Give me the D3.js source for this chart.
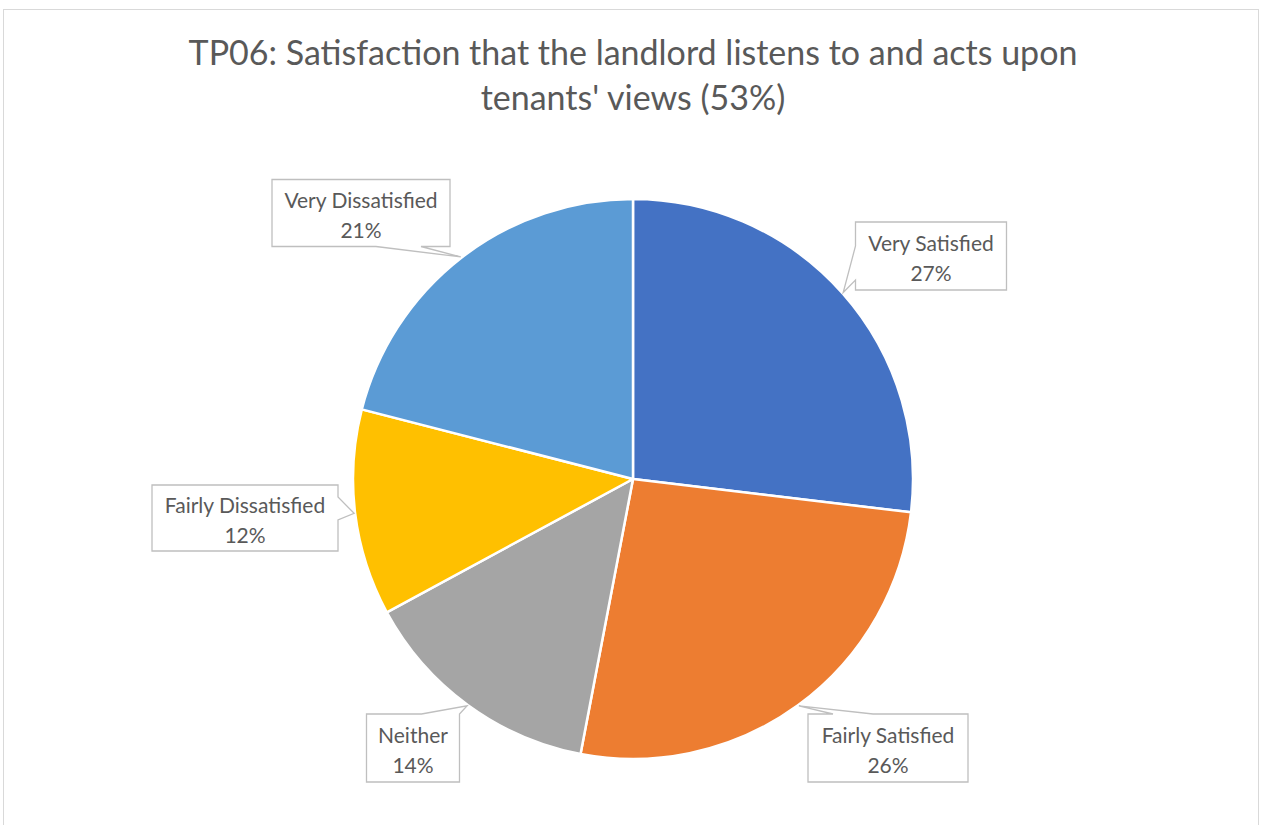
<!DOCTYPE html>
<html>
<head>
<meta charset="utf-8">
<script src="https://cdn.jsdelivr.net/npm/d3@7"></script>
<style>
  body { margin: 0; background: #fff; }
  text { font-family: Lato, "Open Sans", sans-serif; }
</style>
</head>
<body>
<div id="chart-area"></div>
<script>
// data
var categories = ["Very Satisfied", "Fairly Satisfied", "Neither", "Fairly Dissatisfied", "Very Dissatisfied"];
var values = [26.9, 26.1, 14.1, 11.9, 21.0];
var pctLabels = ["27%", "26%", "14%", "12%", "21%"];
var colors = ["#4472C4", "#ED7D31", "#A5A5A5", "#FFC000", "#5B9BD5"];
var titleLines = ["TP06: Satisfaction that the landlord listens to and acts upon", "tenants' views (53%)"];

// where each callout box sits (centre, size)
var boxes = [
    {cx: 931, cy: 256, w: 151, h: 68},
    {cx: 888, cy: 748, w: 160, h: 68},
    {cx: 413, cy: 748, w: 93, h: 68},
    {cx: 245, cy: 518, w: 186, h: 66},
    {cx: 361, cy: 213, w: 178, h: 67}
];

var width = 1261;
var height = 825;
var cx = 633, cy = 479, radius = 280;

var svg = d3.select('#chart-area')
    .append('svg')
        .attr('width', width)
        .attr('height', height);

// chart border
svg.append('rect')
    .attr('x', 3.5)
    .attr('y', 9.5)
    .attr('width', 1255)
    .attr('height', 830)
    .attr('fill', 'none')
    .attr('stroke', '#d9d9d9');

svg.selectAll('text.title')
    .data(titleLines)
    .enter()
    .append('text')
        .attr('class', 'title')
        .attr('x', 633)
        .attr('y', (d, i) => 65 + i * 45)
        .attr('text-anchor', 'middle')
        .attr('font-size', '34px')
        .attr('fill', '#595959')
        .text(d => d);

var pie = d3.pie().sort(null).value(d => d);
var arcs = pie(values);
var arc = d3.arc().innerRadius(0).outerRadius(radius);

var g = svg.append('g')
    .attr('transform', 'translate(' + cx + ', ' + cy + ')');

g.selectAll('path')
    .data(arcs)
    .enter()
    .append('path')
        .attr('d', arc)
        .attr('fill', (d, i) => colors[i])
        .attr('stroke', '#fff')
        .attr('stroke-width', 2.5)
        .attr('stroke-linejoin', 'round');

// callout shape: rectangle with a wedge pointing at the slice
function calloutPath(b, tx, ty) {
    var x0 = b.cx - b.w / 2, x1 = b.cx + b.w / 2;
    var y0 = b.cy - b.h / 2, y1 = b.cy + b.h / 2;
    var dx = tx - b.cx, dy = ty - b.cy;
    var side;
    if (tx > x1 && Math.abs(dy) < b.h / 2 + 5) side = 'right';
    else if (tx < x0 && Math.abs(dy) < b.h / 2 + 5) side = 'left';
    else if (Math.abs(dx) / b.w > Math.abs(dy) / b.h) side = dx > 0 ? 'right' : 'left';
    else side = dy > 0 ? 'bottom' : 'top';
    var p = [];
    if (side === 'top') {
        var a, c;
        if (tx < b.cx) { a = x0 + 25; c = a + 40; }
        else { c = x1; a = x1 - 38; }
        p = [[x0, y0], [a, y0], [tx, ty], [c, y0], [x1, y0], [x1, y1], [x0, y1]];
    } else if (side === 'bottom') {
        var a2 = Math.max(x0, Math.min(x1 - 30, b.cx + 15));
        var c2 = Math.min(x1 - 8, a2 + 45);
        p = [[x0, y0], [x1, y0], [x1, y1], [c2, y1], [tx, ty], [a2, y1], [x0, y1]];
    } else if (side === 'left') {
        var m1 = Math.max(y0, b.cy - 10), m2 = Math.min(y1 - 6, b.cy + 24);
        p = [[x0, y0], [x1, y0], [x1, y1], [x0, y1], [x0, m2], [tx, ty], [x0, m1]];
    } else {
        var n1 = Math.max(y0, b.cy - 21), n2 = Math.min(y1, b.cy + 2);
        p = [[x0, y0], [x1, y0], [x1, n1], [tx, ty], [x1, n2], [x1, y1], [x0, y1]];
    }
    return d3.line()(p) + 'Z';
}

var labels = svg.selectAll('g.label')
    .data(arcs)
    .enter()
    .append('g')
        .attr('class', 'label');

labels.append('path')
    .attr('d', (d, i) => {
        var mid = (d.startAngle + d.endAngle) / 2;
        var tx = cx + Math.sin(mid) * (radius + 1);
        var ty = cy - Math.cos(mid) * (radius + 1);
        return calloutPath(boxes[i], tx, ty);
    })
    .attr('fill', '#fff')
    .attr('stroke', '#bfbfbf')
    .attr('stroke-width', 1.3);

labels.append('text')
    .attr('x', (d, i) => boxes[i].cx)
    .attr('y', (d, i) => boxes[i].cy - 5)
    .attr('text-anchor', 'middle')
    .attr('font-size', '21px')
    .attr('fill', '#595959')
    .text((d, i) => categories[i]);

labels.append('text')
    .attr('x', (d, i) => boxes[i].cx)
    .attr('y', (d, i) => boxes[i].cy + 25)
    .attr('text-anchor', 'middle')
    .attr('font-size', '21px')
    .attr('fill', '#595959')
    .text((d, i) => pctLabels[i]);
</script>
</body>
</html>
